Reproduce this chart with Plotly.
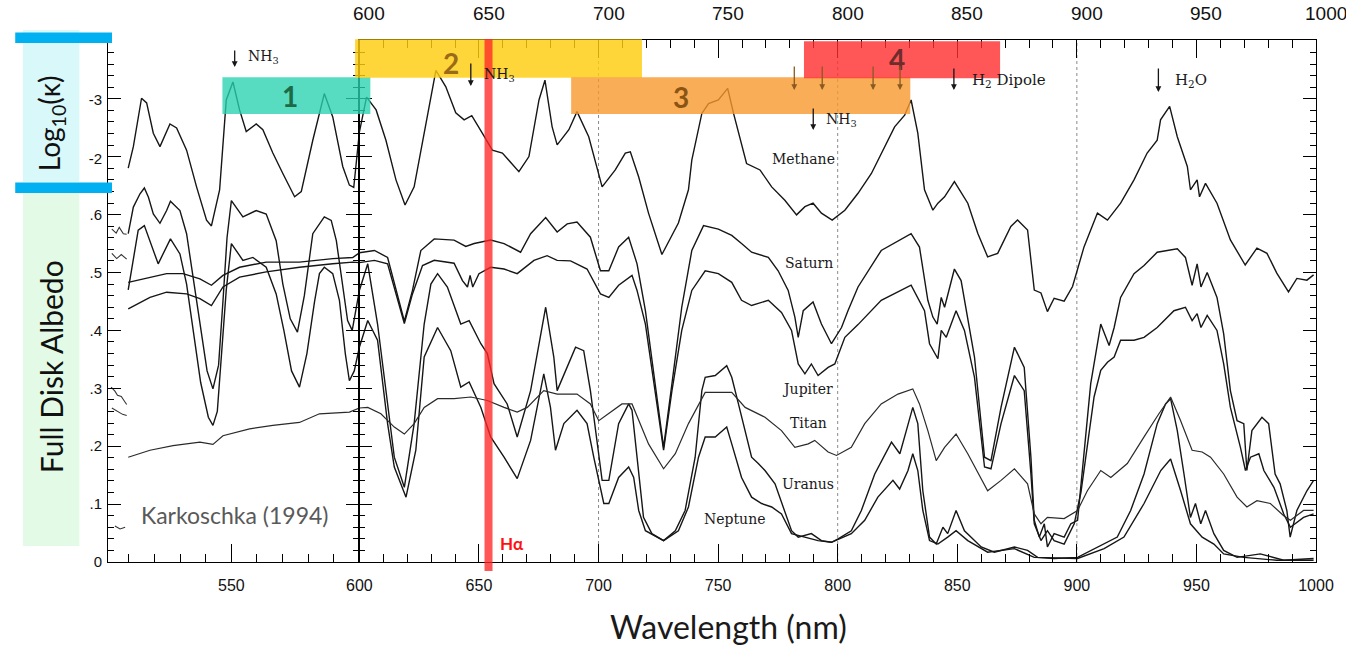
import plotly.graph_objects as go

# ---------------- data (wavelength nm, value) ----------------
METHANE_LOGK = [(509.7,-1.83),(511.7,-2.20),(514.9,-3.03),(516.9,-2.95),(519.5,-2.43),(522.1,-2.20),(526.0,-2.59),(528.6,-2.52),(532.5,-2.14),(536.4,-1.51),(540.3,-0.94),(542.2,-0.84),(545.4,-1.46),(548.0,-3.00),(550.6,-3.31),(553.2,-2.83),(555.8,-2.46),(559.7,-2.59),(562.3,-2.49),(566.2,-2.09),(570.1,-1.74),(574.7,-1.34),(577.3,-1.43),(581.8,-2.31),(586.3,-3.11),(589.6,-2.71),(593.5,-1.86),(596.1,-1.54),(597.8,-1.50),(600.0,-2.45),(603.0,-3.05),(607.0,-2.83),(611.1,-2.31),(615.3,-1.63),(619.1,-1.20),(622.9,-1.51),(627.1,-2.43),(632.0,-3.51),(636.1,-3.23),(640.3,-2.78),(643.8,-2.66),(647.0,-2.73),(651.4,-2.43),(655.6,-2.14),(659.8,-2.09),(666.7,-1.77),(670.9,-2.03),(675.1,-3.00),(677.6,-3.34),(680.6,-2.54),(682.7,-2.23),(687.6,-2.49),(691.0,-2.80),(695.9,-2.37),(701.5,-1.51),(707.0,-1.80),(711.2,-2.09),(713.3,-2.11),(716.8,-1.68),(720.9,-1.06),(726.5,-0.35),(733.4,-0.89),(737.6,-1.46),(739.0,-1.97),(743.2,-2.77),(746.0,-2.94),(750.1,-3.00),(754.0,-3.20),(756.4,-2.78),(759.2,-2.31),(761.9,-1.91),(767.5,-1.80),(772.4,-1.51),(777.9,-1.28),(782.8,-1.03),(786.3,-1.17),(789.7,-1.23),(793.2,-1.06),(797.7,-0.94),(803.0,-1.11),(808.5,-1.40),(814.1,-1.74),(819.6,-2.20),(823.8,-2.54),(828.0,-2.74),(830.7,-3.00),(833.5,-2.43),(836.3,-1.46),(839.8,-1.11),(841.9,-1.23),(844.7,-1.34),(848.8,-1.60),(854.4,-1.23),(858.6,-0.71),(862.7,-0.31),(866.9,-0.37),(872.4,-0.83),(875.2,-0.94),(879.4,-0.77),(882.2,0.26),(885.0,0.31),(887.7,0.63),(890.5,0.40),(894.7,0.45),(898.2,0.20),(903.0,-0.48),(908.6,-1.06),(912.8,-0.94),(918.3,-1.23),(923.9,-1.63),(929.4,-2.09),(933.6,-2.31),(935.0,-2.66),(938.8,-2.89),(942.0,-2.37),(946.2,-1.86),(947.5,-1.46),(950.3,-1.63),(951.3,-1.34),(953.8,-1.57),(958.6,-1.23),(964.2,-0.60),(970.4,-0.17),(975.3,-0.46),(979.5,-0.37),(983.6,-0.03),(988.5,0.29),(992.0,0.06),(996.2,0.09),(999.0,0.00)]

SATURN = [(509.7,.483),(518.2,.492),(524.7,.498),(531.1,.498),(537.7,.489),(542.2,.478),(546.7,.495),(553.2,.509),(563.6,.518),(576.6,.518),(589.6,.524),(597.4,.526),(600.0,.534),(606.3,.538),(611.8,.526),(615.3,.469),(618.8,.416),(622.2,.469),(625.7,.538),(631.3,.558),(639.6,.556),(644.5,.545),(648.0,.550),(654.9,.556),(660.5,.550),(667.4,.535),(671.6,.567),(677.9,.595),(682.7,.570),(686.9,.584),(691.0,.587),(696.6,.561),(700.8,.503),(704.3,.503),(708.4,.544),(712.6,.561),(716.1,.515),(719.6,.434),(723.7,.308),(727.2,.198),(730.7,.308),(734.8,.440),(739.0,.538),(743.9,.581),(750.1,.575),(755.7,.564),(759.8,.550),(764.0,.535),(771.0,.526),(775.1,.503),(779.3,.469),(782.1,.423),(783.5,.388),(785.6,.434),(789.7,.449),(793.2,.411),(797.4,.377),(801.6,.405),(804.3,.434),(808.5,.475),(818.2,.538),(825.2,.555),(830.7,.567),(834.2,.544),(837.7,.452),(839.8,.423),(841.6,.411),(843.3,.457),(844.7,.440),(848.8,.506),(851.6,.486),(857.2,.354),(861.4,.181),(864.1,.175),(868.3,.267),(873.9,.371),(878.0,.336),(880.8,.181),(882.2,.072),(884.3,.043),(886.4,.066),(887.7,.026),(890.5,.049),(894.7,.043),(897.5,.066),(900.3,.072),(903.1,.193),(905.8,.308),(910.0,.411),(913.5,.374),(915.6,.405),(918.3,.457),(923.9,.498),(928.1,.512),(933.6,.535),(937.8,.538),(942.0,.541),(945.4,.526),(948.2,.478),(950.3,.515),(951.9,.475),(954.5,.500),(958.6,.457),(961.4,.394),(964.2,.296),(967.0,.244),(969.8,.239),(971.1,.158),(973.2,.227),(977.4,.250),(980.2,.239),(982.9,.152),(985.0,.135),(987.8,.089),(989.2,.043),(992.0,.089),(996.2,.123),(999.0,.141)]

JUPITER = [(509.7,.437),(518.2,.457),(524.7,.466),(532.5,.463),(537.7,.455),(542.2,.443),(546.7,.475),(553.2,.492),(563.6,.501),(576.6,.509),(589.6,.515),(597.4,.518),(600.0,.517),(606.3,.521),(611.8,.515),(615.3,.463),(618.8,.412),(622.2,.463),(626.4,.512),(631.3,.521),(639.6,.516),(643.1,.486),(645.2,.475),(646.3,.495),(647.4,.475),(650.0,.498),(654.9,.509),(660.5,.506),(666.0,.498),(673.0,.521),(678.5,.529),(682.7,.521),(688.3,.520),(695.2,.506),(700.8,.463),(704.3,.457),(708.4,.478),(714.0,.495),(716.1,.469),(719.6,.411),(723.7,.296),(727.2,.193),(730.7,.296),(734.8,.400),(739.0,.469),(744.6,.503),(750.1,.498),(755.7,.483),(759.8,.452),(764.0,.443),(771.0,.452),(776.5,.431),(780.7,.400),(783.5,.342),(786.3,.325),(789.0,.342),(791.8,.322),(796.0,.336),(798.8,.342),(803.0,.388),(808.5,.410),(818.2,.452),(830.7,.478),(836.3,.434),(838.4,.377),(841.9,.351),(843.3,.400),(845.4,.388),(849.5,.434),(853.0,.400),(857.2,.319),(861.4,.164),(864.1,.161),(868.3,.239),(873.9,.322),(878.0,.296),(880.8,.152),(882.2,.066),(885.0,.037),(887.7,.054),(890.5,.037),(894.7,.031),(898.9,.066),(901.7,.120),(907.2,.285),(910.0,.331),(912.8,.345),(915.6,.354),(918.3,.383),(923.9,.383),(928.1,.388),(933.6,.405),(940.6,.434),(945.4,.440),(948.2,.417),(950.3,.429),(951.9,.405),(954.5,.426),(958.6,.400),(961.4,.342),(964.2,.267),(968.4,.198),(970.5,.158),(972.6,.181),(976.1,.187),(978.2,.158),(982.4,.129),(986.5,.083),(989.3,.060),(994.8,.077),(999.0,.083)]

TITAN = [(509.7,.181),(518.2,.193),(527.2,.201),(537.7,.207),(542.8,.203),(546.7,.218),(557.1,.230),(566.2,.236),(576.6,.241),(584.4,.256),(596.1,.259),(600.0,.266),(603.5,.267),(609.0,.256),(614.6,.233),(618.8,.221),(622.9,.239),(627.1,.267),(632.7,.282),(639.6,.282),(646.6,.285),(653.5,.279),(660.5,.267),(666.0,.259),(670.2,.267),(677.1,.296),(682.7,.290),(691.0,.290),(696.6,.273),(700.1,.244),(704.3,.256),(709.8,.273),(714.0,.273),(716.8,.244),(720.9,.204),(727.2,.161),(732.1,.187),(737.6,.239),(741.8,.273),(744.6,.293),(750.1,.293),(755.7,.293),(761.3,.267),(769.6,.250),(776.5,.227),(782.1,.198),(787.7,.204),(790.4,.210),(796.0,.190),(799.5,.184),(805.7,.198),(811.3,.239),(818.2,.273),(825.2,.290),(831.4,.299),(834.2,.273),(837.7,.227),(841.2,.175),(844.7,.198),(849.5,.221),(854.4,.187),(862.7,.123),(868.3,.141),(873.9,.161),(879.4,.135),(882.2,.083),(885.0,.066),(887.7,.077),(894.7,.075),(900.3,.089),(904.4,.123),(910.0,.158),(914.2,.146),(921.1,.170),(928.1,.216),(934.3,.256),(939.2,.285),(943.4,.244),(948.2,.193),(952.4,.190),(955.9,.181),(961.4,.152),(967.0,.112),(971.1,.095),(975.3,.106),(980.9,.101),(986.5,.080),(989.3,.072),(994.8,.089),(999.0,.089)]

URANUS = [(509.7,.567),(511.7,.613),(514.3,.636),(516.0,.646),(517.6,.630),(519.5,.601),(522.1,.585),(524.7,.607),(526.2,.623),(529.9,.607),(532.5,.567),(535.1,.492),(538.0,.400),(540.5,.330),(542.8,.299),(545.0,.340),(546.7,.450),(548.3,.560),(550.0,.624),(554.5,.596),(559.7,.607),(563.6,.601),(567.5,.555),(570.1,.480),(573.0,.420),(575.8,.397),(578.5,.460),(581.8,.567),(586.3,.596),(589.0,.590),(591.0,.555),(593.5,.480),(595.4,.417),(597.2,.400),(600.0,.469),(603.5,.515),(607.6,.411),(611.8,.267),(614.6,.181),(618.8,.129),(622.9,.239),(627.1,.411),(629.9,.480),(632.7,.498),(636.8,.475),(642.4,.411),(645.9,.417),(650.8,.377),(653.5,.360),(656.3,.308),(661.8,.273),(666.0,.216),(671.6,.296),(677.9,.440),(681.3,.354),(682.7,.296),(686.9,.336),(690.4,.371),(693.8,.365),(696.6,.296),(701.5,.141),(704.3,.141),(708.4,.239),(712.6,.273),(714.0,.262),(716.8,.152),(718.8,.077),(722.3,.049),(727.2,.037),(732.1,.054),(736.2,.089),(740.4,.181),(743.2,.296),(744.6,.319),(748.8,.322),(753.6,.339),(755.7,.319),(758.5,.273),(761.3,.227),(764.0,.181),(766.8,.170),(769.6,.158),(773.8,.135),(777.9,.089),(780.7,.054),(783.5,.043),(789.0,.049),(793.2,.037),(797.4,.034),(800.2,.040),(805.7,.054),(809.9,.089),(815.5,.152),(822.5,.207),(826.0,.187),(828.7,.227),(831.4,.267),(833.5,.239),(835.6,.123),(838.4,.043),(841.2,.031),(844.0,.060),(846.0,.049),(849.5,.089),(853.0,.054),(860.0,.026),(865.5,.017),(873.9,.026),(879.4,.020),(883.6,.008),(890.5,.006),(900.3,.008),(905.8,.020),(911.4,.031),(916.9,.043),(922.5,.089),(928.1,.152),(933.6,.239),(937.1,.273),(939.2,.282),(942.0,.227),(944.8,.152),(947.5,.077),(949.6,.101),(951.8,.066),(953.8,.089),(957.3,.049),(961.4,.020),(967.0,.008),(976.7,.014),(986.5,.003),(999.0,.006)]

NEPTUNE = [(509.7,.470),(511.7,.521),(513.6,.573),(516.0,.581),(518.2,.555),(521.4,.515),(526.2,.558),(529.9,.532),(532.5,.480),(535.0,.400),(538.0,.310),(541.0,.250),(542.8,.236),(544.5,.260),(546.0,.350),(548.0,.470),(550.0,.550),(554.5,.521),(558.4,.526),(563.6,.509),(567.5,.463),(570.5,.400),(573.5,.330),(576.6,.302),(579.5,.360),(582.5,.450),(584.4,.498),(586.3,.509),(589.6,.498),(592.2,.452),(594.5,.360),(596.1,.313),(598.0,.330),(600.0,.371),(603.5,.417),(607.6,.383),(611.8,.239),(614.6,.164),(619.5,.112),(623.6,.193),(627.1,.354),(632.7,.405),(638.2,.365),(642.4,.302),(645.9,.311),(650.8,.267),(654.9,.216),(660.5,.181),(666.0,.144),(671.6,.210),(677.1,.325),(679.9,.267),(682.0,.193),(685.5,.239),(691.0,.262),(695.2,.239),(698.0,.181),(702.2,.101),(704.3,.101),(708.4,.146),(712.6,.164),(714.7,.146),(716.8,.089),(719.6,.054),(727.2,.037),(733.4,.054),(737.6,.095),(741.8,.181),(744.6,.216),(748.8,.216),(753.6,.233),(755.7,.204),(759.8,.146),(764.0,.112),(768.2,.101),(772.4,.095),(776.5,.083),(780.7,.049),(786.3,.043),(791.8,.037),(797.4,.034),(805.7,.049),(811.3,.072),(816.8,.112),(823.1,.141),(825.9,.126),(829.4,.158),(831.4,.187),(833.5,.158),(835.6,.089),(838.4,.037),(841.9,.031),(846.0,.043),(849.5,.054),(854.4,.037),(862.7,.017),(873.9,.023),(882.2,.008),(900.3,.006),(911.4,.023),(919.7,.043),(928.1,.101),(935.1,.158),(939.2,.178),(943.4,.123),(947.5,.066),(952.4,.043),(957.3,.031),(961.4,.014),(969.8,.008),(983.6,.003),(999.0,.003)]

# leftover bits of the neighbouring panel of the original figure
FRAGMENTS = [
    [(503.3,.575),(505.0,.568),(506.2,.578),(507.8,.567),(509.1,.566)],
    [(503.3,.533),(505.2,.524),(507.0,.531),(509.1,.523)],
    [(503.0,.302),(504.5,.295),(505.5,.288),(507.0,.286),(508.5,.276),(509.1,.272)],
    [(503.3,.266),(505.0,.262),(507.5,.255),(509.1,.253)],
    [(504.5,.062),(506.5,.057),(508.5,.060)],
]

CURVE_LABELS = ["Methane", "Saturn", "Jupiter", "Titan", "Uranus", "Neptune"]
ALBEDO_TICKS = [0, .1, .2, .3, .4, .5, .6, .7, .8, .9]
ALBEDO_LABELED = [0, .1, .2, .3, .4, .5, .6]
ALBEDO_TEXT = ["0", ".1", ".2", ".3", ".4", ".5", ".6"]
LOGK_TICKS = [-3, -2]
LEFT_TICKS = [550]
RIGHT_TICKS = [600, 650, 700, 750, 800, 850, 900, 950, 1000]
DOTTED_NM = [700, 800, 900]
HALPHA_NM = 654.0

# ---------------- geometry ----------------
W, H = 1346, 648
L, R, T, B = 108, 1319, 40, 562
SPLIT = (360 - L) / (R - L)
ALB_MAX = (B - T) / 579.0
LK_TOP = -3 - (100 - T) / 58.3
LK_BOT = -3 + (B - 100) / 58.3


def fx(x):
    return (x - L) / (R - L)


def fy(y):
    return (B - y) / (B - T)


fig = go.Figure()
INK = "#161616"


def add(series, yl, yr, width=1.4, color=INK):
    left = [p for p in series if p[0] <= 600]
    right = [p for p in series if p[0] >= 600]
    for pts, xa, ya in ((left, "x", yl), (right, "x2", yr)):
        if len(pts) > 1:
            fig.add_trace(go.Scatter(
                x=[p[0] for p in pts], y=[p[1] for p in pts], mode="lines",
                line=dict(color=color, width=width), xaxis=xa, yaxis=ya,
                showlegend=False, hoverinfo="skip"))


add(METHANE_LOGK, "y2", "y4")
for s in (SATURN, JUPITER, URANUS, NEPTUNE):
    add(s, "y", "y3")
add(TITAN, "y", "y3", width=1.2, color="#2a2a2a")
for fr in FRAGMENTS:
    add(fr, "y", "y3", width=1.1, color="#333")

tickfont = dict(family="Liberation Sans", size=15, color="#111")
common_y = dict(domain=[0, 1], range=[0, ALB_MAX], showline=True, linecolor="black",
                linewidth=1, mirror="ticks", ticks="inside", ticklen=13, tickwidth=1.3,
                tickcolor="black", tickvals=ALBEDO_TICKS, showgrid=False, zeroline=False,
                minor=dict(dtick=0.02, tick0=0, ticks="inside", ticklen=6, tickcolor="black",
                           tickwidth=1.1))

fig.update_layout(
    width=W, height=H, margin=dict(l=L, r=W - R, t=T, b=H - B, pad=0),
    paper_bgcolor="white", plot_bgcolor="white", showlegend=False,
    xaxis=dict(domain=[0, SPLIT], range=[501.8, 600], anchor="y", showline=True,
               linecolor="black", linewidth=1.4, ticks="inside", ticklen=18, tickwidth=1.3,
               tickcolor="black", tickvals=LEFT_TICKS, ticktext=[str(v) for v in LEFT_TICKS],
               minor=dict(dtick=10, tick0=500, ticks="inside", ticklen=8, tickcolor="black",
                          tickwidth=1.1),
               showgrid=False, zeroline=False, tickfont=dict(tickfont, size=16),
               ticklabelstandoff=9),
    xaxis2=dict(domain=[SPLIT, 1], range=[600, 1000], anchor="y3", showline=True,
                mirror="ticks", linecolor="black", linewidth=1.4, ticks="inside", ticklen=18,
                tickwidth=1.3, tickcolor="black", tickvals=RIGHT_TICKS,
                ticktext=[str(v) for v in RIGHT_TICKS],
                minor=dict(dtick=10, tick0=600, ticks="inside", ticklen=8, tickcolor="black",
                           tickwidth=1.1),
                showgrid=False, zeroline=False, tickfont=dict(tickfont, size=16),
                ticklabelstandoff=9),
    yaxis=dict(common_y, anchor="x", showticklabels=False),
    yaxis2=dict(overlaying="y", anchor="x", side="left", range=[LK_BOT, LK_TOP],
                tickvals=LOGK_TICKS, ticktext=[str(v) for v in LOGK_TICKS], ticks="",
                showline=False, showgrid=False, zeroline=False, tickfont=tickfont,
                ticklabelstandoff=5),
    yaxis3=dict(common_y, anchor="x2", showticklabels=False),
    yaxis4=dict(overlaying="y3", anchor="x2", range=[LK_BOT, LK_TOP], showline=False,
                showticklabels=False, ticks="", showgrid=False, zeroline=False),
    yaxis5=dict(overlaying="y", anchor="x", side="left", range=[0, ALB_MAX],
                tickvals=ALBEDO_LABELED, ticktext=ALBEDO_TEXT, ticks="", showline=False,
                showgrid=False, zeroline=False, tickfont=tickfont, ticklabelstandoff=5),
)
# an invisible anchor so the label-only albedo axis is rendered
fig.add_trace(go.Scatter(x=[None], y=[None], xaxis="x", yaxis="y5", showlegend=False,
                         hoverinfo="skip"))

shapes = []
shapes.append(dict(type="rect", xref="paper", yref="paper", x0=fx(22.7), x1=fx(79.3),
                   y0=fy(182), y1=fy(30), fillcolor="#D8F8FA", line=dict(width=0), layer="below"))
shapes.append(dict(type="rect", xref="paper", yref="paper", x0=fx(22.7), x1=fx(79.3),
                   y0=fy(546), y1=fy(193), fillcolor="#E3FBE6", line=dict(width=0), layer="below"))
for yy in (32.5, 182.5):
    shapes.append(dict(type="rect", xref="paper", yref="paper", x0=fx(15), x1=fx(112),
                       y0=fy(yy + 10.5), y1=fy(yy), fillcolor="#00B0F0", line=dict(width=0),
                       layer="above"))
for d in DOTTED_NM:
    shapes.append(dict(type="line", xref="x2", yref="paper", x0=d, x1=d, y0=0, y1=1,
                       line=dict(color="#8a8a8a", width=1, dash="dot"), layer="below"))
boxes = [
    (222.7, 371.0, 77.3, 114.0, "rgba(40,210,175,0.78)"),
    (355.7, 643.3, 39.3, 77.7, "rgba(255,205,15,0.82)"),
    (572.3, 912.3, 77.3, 114.0, "rgba(248,152,45,0.80)"),
    (805.7, 1002.3, 41.3, 78.3, "rgba(255,45,45,0.80)"),
]
for x0, x1, y0, y1, c in boxes:
    shapes.append(dict(type="rect", xref="paper", yref="paper", x0=fx(x0), x1=fx(x1),
                       y0=fy(y1), y1=fy(y0), fillcolor=c, line=dict(width=0), layer="above"))
shapes.append(dict(type="line", xref="x2", yref="paper", x0=HALPHA_NM, x1=HALPHA_NM,
                   y0=fy(571), y1=fy(39), line=dict(color="rgba(255,40,40,0.78)", width=8),
                   layer="above"))
fig.update_layout(shapes=shapes)

ann = []
lato = "Lato"
serif = "DejaVu Serif"


def text(x, y, s, size, color="#111", family=lato, angle=0, bold=False, xanchor="center"):
    if bold:
        s = "<b>" + s + "</b>"
    ann.append(dict(x=fx(x), y=fy(y), xref="paper", yref="paper", text=s, showarrow=False,
                    xanchor=xanchor, yanchor="middle", textangle=angle,
                    font=dict(family=family, size=size, color=color)))


for t in RIGHT_TICKS:
    ann.append(dict(x=t, xref="x2", y=1, yref="paper", yanchor="bottom", yshift=14, xshift=10,
                    text=str(t), showarrow=False,
                    font=dict(family="Liberation Sans", size=19, color="#111")))

text(51, 123, "Log<sub>10</sub>(κ)", 28, "#111", angle=-90)
text(51, 367, "Full Disk Albedo", 30, "#111", angle=-90)
text(730, 626, "Wavelength (nm)", 32, "#1a1a1a")
text(234.5, 515, "Karkoschka (1994)", 23, "#595959")
text(513.5, 543, "Hα", 17, "#FF1010", bold=True)
text(290, 96, "1", 28, "#1c6b46", bold=True)
text(452, 63, "2", 28, "#9a6a18", bold=True)
text(682, 97, "3", 28, "#8a5412", bold=True)
text(899, 59, "4", 28, "#6e2c2c", bold=True)

label_pos = {"Methane": (805, 159), "Saturn": (811, 263), "Jupiter": (809, 389),
             "Titan": (810, 423), "Uranus": (810, 484), "Neptune": (736, 519)}
for name in CURVE_LABELS:
    x, y = label_pos[name]
    text(x, y, name, 14, "#1a1a1a", family=serif)

text(246, 57, "NH<sub>3</sub>", 14, "#1a1a1a", family=serif, xanchor="left")
text(483, 75, "NH<sub>3</sub>", 14, "#1a1a1a", family=serif, xanchor="left")
text(826, 120, "NH<sub>3</sub>", 14, "#1a1a1a", family=serif, xanchor="left")
text(972, 80, "H<sub>2</sub> Dipole", 15, "#1a1a1a", family=serif, xanchor="left")
text(1176, 80, "H<sub>2</sub>O", 15, "#1a1a1a", family=serif, xanchor="left")

arrows = [(235, 49, 67, INK), (471.7, 62, 86, INK), (815, 107, 130, INK),
          (796, 65, 90, "#8a5a20"), (824, 65, 90, "#8a5a20"), (875, 65, 90, "#8a5a20"),
          (902, 65, 90, "#8a5a20"), (956, 67, 90, INK), (1161, 67, 92, INK)]
for x, y0, y1, c in arrows:
    ann.append(dict(x=fx(x), y=fy(y1), xref="paper", yref="paper", ax=0, ay=-(y1 - y0),
                    axref="pixel", ayref="pixel", text="", showarrow=True, arrowhead=2,
                    arrowsize=0.9, arrowwidth=1.3, arrowcolor=c))

fig.update_layout(annotations=ann)
fig.write_html("out.html")
